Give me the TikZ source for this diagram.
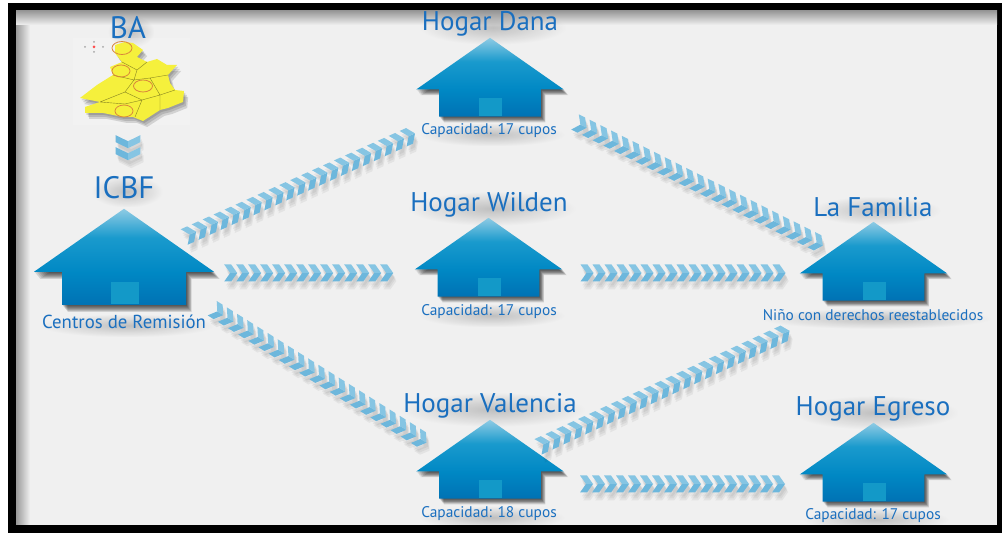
\documentclass[tikz,border=0pt]{standalone}
\usepackage{fontspec}
\setmainfont{PT Sans}
\usetikzlibrary{decorations.markings,fadings}
\definecolor{azul}{HTML}{1A6FBF}
\definecolor{flecha}{HTML}{6DB7DC}
\definecolor{flechaclara}{HTML}{86C5E3}
\definecolor{puerta}{HTML}{1399C8}
\definecolor{fondo}{HTML}{F0F0F0}
\definecolor{amarillo}{HTML}{F5F03C}
\definecolor{anillo}{HTML}{D9853B}
\tikzfading[name=difusa,inner color=transparent!0,outer color=transparent!100]
\pgfdeclarelayer{marco}
\pgfdeclarelayer{sombra}
\pgfsetlayers{marco,sombra,main}
\pgfdeclareverticalshading{techo}{100bp}{rgb(0bp)=(0,.447,.706); rgb(25bp)=(0,.447,.706); rgb(42bp)=(0,.533,.769); rgb(60bp)=(.1,.604,.804); rgb(75bp)=(.557,.796,.894); rgb(100bp)=(.557,.796,.894)}
\newcommand{\casapath}{(0,0) -- (90,63) -- (62,63) -- (62,96) -- (-62,96) -- (-62,63) -- (-90,63) -- cycle}
\newcommand{\mapapath}{(115,45) -- (125,42) -- (133,43) -- (143,50) -- (137,57) -- (147,62) -- (157,59) -- (167,65) -- (177,65) -- (168,75) -- (170,83) -- (175,90) -- (184,91) -- (183,102) -- (168,108) -- (160,110) -- (143,121) -- (133,117) -- (123,117) -- (103,113) -- (85,113) -- (85,107) -- (100,102) -- (80,98) -- (97,85) -- (113,75) -- (110,67) -- (122,62) -- (115,53) -- cycle}
\tikzset{
  x=1pt,y=-1pt,
  casa/.style={minimum width=#1*180pt,minimum height=#1*96pt,inner sep=0pt},
  titulo/.style={text=azul,font=\fontsize{27}{28}\selectfont,inner sep=0pt},
  grande/.style={text=azul,font=\fontsize{31}{32}\selectfont,inner sep=0pt},
  cupos/.style={text=azul,font=\fontsize{15.4}{16}\selectfont,inner sep=0pt},
  chevsombra/.style={
    decoration={markings,mark=between positions 0 and 1 step 12pt with {
      \fill[black,opacity=.05,yscale=#1] (0,8.5) -- (7,8.5) -- (13,0) -- (7,-8.5) -- (0,-8.5) -- (6,0) -- cycle;}},
    postaction={decorate}},
  chevrones/.style={
    decoration={markings,mark=between positions 0 and 1 step 12pt with {
      \fill[flecha,yscale=#1] (0,8.5) -- (7,8.5) -- (13,0) -- (6,0) -- cycle;
      \fill[flechaclara,yscale=#1] (0,-8.5) -- (7,-8.5) -- (13,0) -- (6,0) -- cycle;}},
    postaction={decorate}},
  pics/hogar/.style={code={
    \foreach \d in {7,6,...,1}
      \fill[black,opacity=.13,shift={(\d*.8,\d)}] \casapath;
    \path[shading=techo] \casapath;
    \fill[puerta] (-13,73) rectangle (15,95);
  }},
}
\begin{document}
\begin{tikzpicture}
    \useasboundingbox (0,0) rectangle (1002,534);
    % marco
    \begin{pgfonlayer}{marco}
    \fill[white] (0,0) rectangle (1002,534);
    \fill[black] (8,3) rectangle (1002,533);
    \fill[fondo] (16,11) rectangle (997,525);
    \shade[left color=black!40,right color=fondo] (16,11) rectangle (30,525);
    \shade[top color=black!40,bottom color=fondo] (16,11) rectangle (997,25);
    \end{pgfonlayer}
    % casas
    \node[casa=1] (icbf) at (124,257) {};
    \node[casa=.82] (dana) at (490,77.4) {};
    \node[casa=.82] (wilden) at (488.5,257.4) {};
    \node[casa=.82] (familia) at (873.5,261.4) {};
    \node[casa=.82] (valencia) at (490,459.4) {};
    \node[casa=.82] (egreso) at (873.5,462.4) {};
    \node[minimum width=116pt,minimum height=100pt,inner sep=0pt] (mapa) at (128,85) {};
    \pic[scale=1] at (icbf.north) {hogar};
    \pic[scale=.82] at (dana.north) {hogar};
    \pic[scale=.82] at (wilden.north) {hogar};
    \pic[scale=.82] at (familia.north) {hogar};
    \pic[scale=.82] at (valencia.north) {hogar};
    \pic[scale=.82] at (egreso.north) {hogar};
    % mapa
    \fill[white,opacity=.15] (73,38) rectangle (190,125);
    \foreach \d in {6,4,2}
      \fill[black,opacity=.13,shift={(\d*.7,\d)}] \mapapath;
    \fill[amarillo] \mapapath;
    \draw[black!45!amarillo,line width=.4pt] (122,62) -- (137,70) -- (147,62) (137,70) -- (134,80) -- (113,75) (134,80) -- (150,78) -- (168,75) (150,78) -- (160,95) -- (175,90) (160,95) -- (160,110) (134,80) -- (125,92) -- (100,102) (125,92) -- (142,100) -- (160,95) (142,100) -- (135,117) (100,102) -- (125,104) -- (142,100);
    \draw[anillo,line width=.8pt] (122,48) ellipse (10 and 6.5) (121,71) ellipse (9 and 6) (143,86) ellipse (9.5 and 6) (124,111) ellipse (9 and 6);
    \fill[red!70] (94,47) circle (1.5);
    \fill[black!35] (85,47) circle (1) (103,47) circle (1) (94,42) circle (1) (94,52) circle (1);
    % flechas
    \coordinate (a0) at (mapa.south);
    \coordinate (b0) at ([shift={(4,-61.5)}]icbf.north);
    \coordinate (a1) at ([shift={(-30,-20)}]icbf.east);
    \coordinate (b1) at ([shift={(-9,20)}]dana.south west);
    \coordinate (a2) at ([shift={(10,16)}]icbf.east);
    \coordinate (b2) at ([shift={(-26,15.6)}]wilden.west);
    \coordinate (a3) at ([shift={(-2,3)}]icbf.south east);
    \coordinate (b3) at ([shift={(6,20)}]valencia.north west);
    \coordinate (a4) at ([shift={(11,5)}]dana.south east);
    \coordinate (b4) at ([shift={(20,22)}]familia.north west);
    \coordinate (a5) at ([shift={(18,15.6)}]wilden.east);
    \coordinate (b5) at ([shift={(-26.7,11.6)}]familia.west);
    \coordinate (a6) at ([shift={(-26,27)}]valencia.north east);
    \coordinate (b6) at ([shift={(-19,34)}]familia.south west);
    \coordinate (a7) at ([shift={(16,24.6)}]valencia.east);
    \coordinate (b7) at ([shift={(-26.7,21.6)}]egreso.west);
    \foreach \d in {4,6,8}
      \foreach \i/\e in {0/1.45,1/1,2/1,3/1,4/1,5/1,6/1,7/1}
        \path[chevsombra=\e] ([shift={(\d*.4,\d)}]a\i) -- ([shift={(\d*.4,\d)}]b\i);
    \foreach \i/\e in {0/1.45,1/1,2/1,3/1,4/1,5/1,6/1,7/1}
      \path[chevrones=\e] (a\i) -- (b\i);
    % textos
    \node[grande] (tba) at (128,28) {BA};
    \node[grande] (ticbf) at (124,188) {ICBF};
    \node[titulo] (tdana) at (490,24) {Hogar Dana};
    \node[titulo] (twilden) at (489,205) {Hogar Wilden};
    \node[titulo] (tfamilia) at (873,207) {La Familia};
    \node[titulo] (tvalencia) at (490,406) {Hogar Valencia};
    \node[titulo] (tegreso) at (873,409) {Hogar Egreso};
    \node[cupos,font=\fontsize{18.8}{19}\selectfont] (cicbf) at (124,322) {Centros de Remisión};
    \node[cupos] (cdana) at (489,131) {Capacidad: 17 cupos};
    \node[cupos] (cwilden) at (489,312) {Capacidad: 17 cupos};
    \node[cupos] (cfamilia) at (873,315) {Niño con derechos reestablecidos};
    \node[cupos] (cvalencia) at (489,514) {Capacidad: 18 cupos};
    \node[cupos] (cegreso) at (873,516) {Capacidad: 17 cupos};
    \begin{pgfonlayer}{sombra}
    \foreach \t in {tba,ticbf,tdana,twilden,tfamilia,tvalencia,tegreso,cicbf,cdana,cwilden,cfamilia,cvalencia,cegreso}
      \fill[black,opacity=.2,path fading=difusa] ([shift={(-2,-1)}]\t.north west) rectangle ([shift={(8,8)}]\t.south east);
    \end{pgfonlayer}
\end{tikzpicture}
\end{document}
